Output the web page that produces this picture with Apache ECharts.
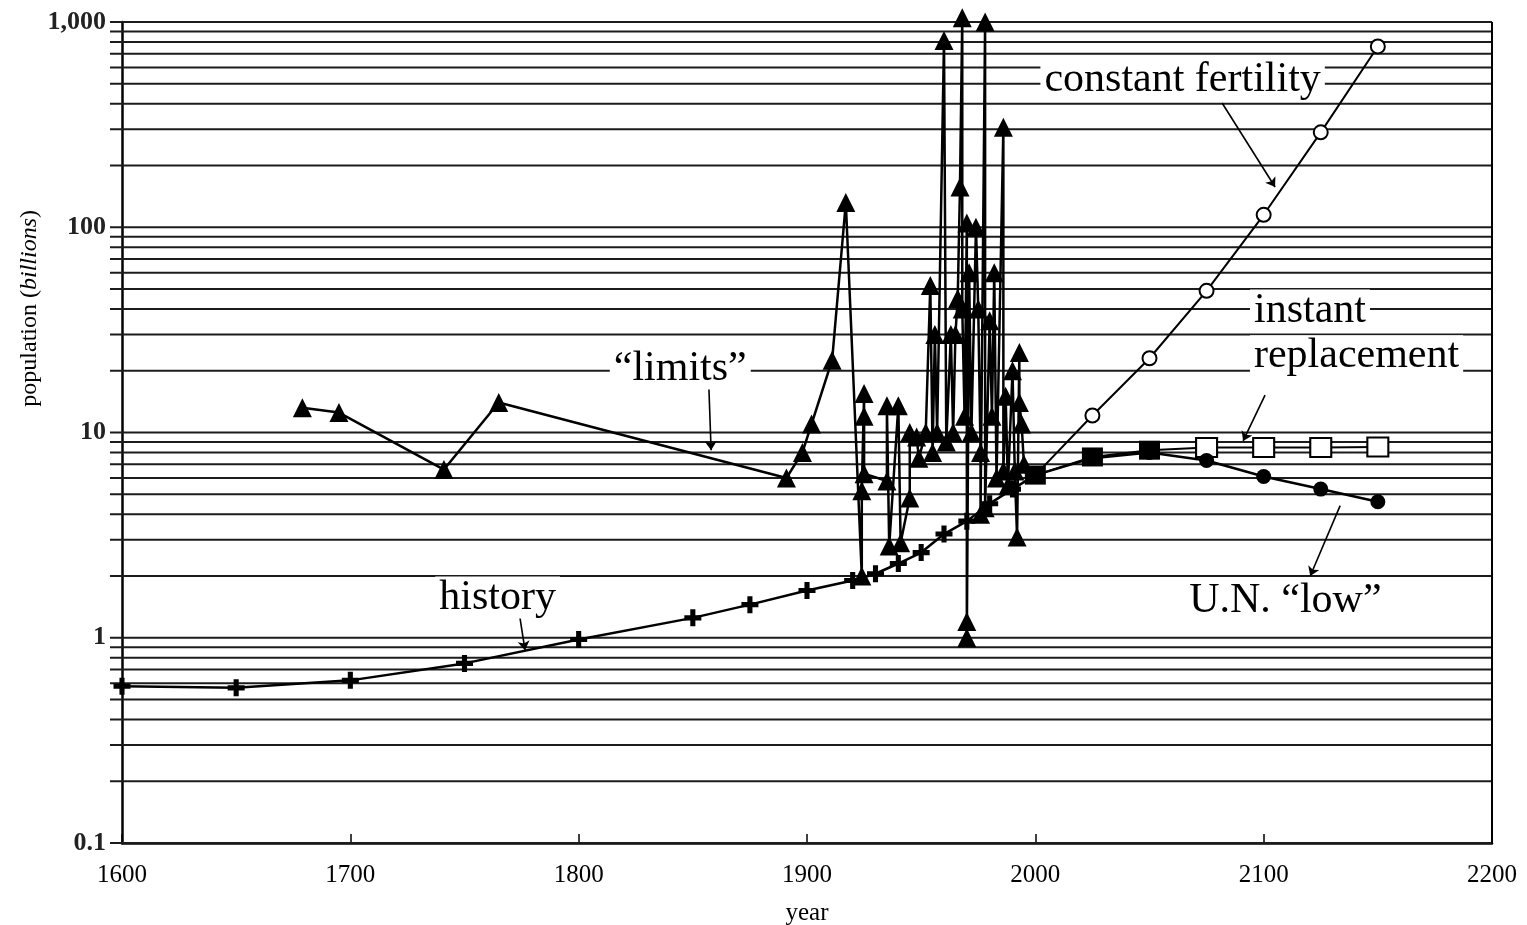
<!DOCTYPE html>
<html>
<head>
<meta charset="utf-8">
<script src="https://cdn.jsdelivr.net/npm/echarts@6/dist/echarts.min.js"></script>
<style>
html,body{margin:0;padding:0;background:#fff;}
#chart{width:1527px;height:925px;}
</style>
</head>
<body>
<div id="chart"></div>
<script>
// ---------------- data ----------------
const historyYears  = [1600,1650,1700,1750,1800,1850,1875,1900,1920,1930,1940,1950,1960,1970,1980,1990,2000];
const historyValues = [0.58,0.57,0.62,0.75,0.98,1.25,1.45,1.7,1.9,2.05,2.3,2.6,3.2,3.7,4.5,5.3,6.2];

const limitsYears  = [1679,1695,1741,1765,1891,1898,1902,1911,1917,1924,1924,1925,1925,1925,1935,1935,1936,1940,1941,1945,1945,1948,1949,1952,1954,1955,1956,1957,1960,1961,1963,1964,1965,1966,1967,1968,1968,1969,1970,1970,1970,1971,1972,1974,1975,1976,1976,1978,1978,1980,1981,1982,1983,1986,1986,1987,1988,1990,1991,1992,1993,1993,1994,1995];
const limitsValues = [13.2,12.5,6.6,14.0,6.0,8.0,11.0,22.5,132,2.0,5.2,15.5,12.0,6.3,5.8,13.5,2.8,13.5,2.9,4.8,10.0,9.5,7.5,10,52,8,30,10,813,9,30,10,30,45,157,1050,40,12,105,1.2,1.0,60,10,100,40,8,4.0,1000,4.3,35,12,60,6.0,307,6.5,15,5.5,20,6.5,3.1,24.5,14,11,7];

const projYears          = [2000,2025,2050,2075,2100,2125,2150];
const constantFertility  = [6.2,12.1,23,49,115,290,760];
const instantReplacement = [6.2,7.6,8.2,8.45,8.45,8.45,8.5];
const unLow              = [6.2,7.5,8.0,7.3,6.1,5.3,4.6];

const yTickValues = [0.1,1,10,100,1000];
const xTickValues = [1600,1700,1800,1900,2000,2100,2200];

const annotationTexts  = ['constant fertility','\u201climits\u201d','instant','replacement','U.N. \u201clow\u201d','history'];
const annotationYears  = [2064.5,1844.5,2094,2094,2109.5,1764.5];
const annotationValues = [521,20.5,39.3,23.5,1.51,1.57];

const leaderFrom = [[2081.8,403],[1857,16.9],[2100.6,15.2],[2133.5,4.4],[1774.3,1.25]];
const leaderTo   = [[2105,157],[1858,8.2],[2091,9.1],[2120.4,2.0],[1776.5,0.87]];

// ---------------- build ----------------
const XMIN = 1600, XMAX = 2200, YMIN = 0.1, YMAX = 1000;
const gridValues = [];
for (let d = YMIN; d < YMAX; d *= 10) {
  for (let k = 1; k <= 9; k++) gridValues.push(+(d * k).toPrecision(3));
}
gridValues.push(YMAX);

const zip = (xs, ys) => xs.map((x, i) => [x, ys[i]]);
const serif = '"Liberation Serif", "DejaVu Serif", serif';
const ink = '#000';

const plusPath = 'path://M3.5,0h3v3.5h3.5v3h-3.5v3.5h-3v-3.5h-3.5v-3h3.5z';
const annotationAlign = ['center','center','left','left','center','center'];

const chart = echarts.init(document.getElementById('chart'));
chart.setOption({
  backgroundColor: '#fff',
  animation: false,
  grid: { left: 122, right: 35, top: 22, bottom: 82, containLabel: false, outerBoundsMode: 'none' },
  xAxis: {
    type: 'value', min: XMIN, max: XMAX, interval: 100,
    name: 'year', nameLocation: 'middle', nameGap: 58,
    nameTextStyle: { fontFamily: serif, fontSize: 25, color: ink },
    axisLine: { lineStyle: { color: ink, width: 2.5 } },
    axisTick: { show: true, inside: true, length: 9, lineStyle: { color: ink, width: 1.5 } },
    axisLabel: { fontFamily: serif, fontSize: 25, color: ink, margin: 20, formatter: v => String(v) },
    splitLine: { show: false }
  },
  yAxis: {
    type: 'log', logBase: 10, min: YMIN, max: YMAX,
    axisLine: { show: true, lineStyle: { color: ink, width: 2.5 } },
    axisTick: { show: false },
    axisLabel: {
      fontFamily: serif, fontSize: 26, fontWeight: 'bold', color: '#222', margin: 16,
      formatter: v => v >= 1000 ? Number(v).toLocaleString('en-US') : String(+Number(v).toPrecision(3))
    },
    splitLine: { show: false }
  },
  graphic: [{
    type: 'text', left: 18, top: 210, rotation: Math.PI / 2,
    style: {
      text: '{a|population (}{b|billions}{a|)}',
      rich: {
        a: { fontFamily: serif, fontSize: 24, fill: ink },
        b: { fontFamily: serif, fontSize: 24, fontStyle: 'italic', fill: ink }
      }
    }
  }],
  series: [
    {
      type: 'custom', name: 'grid', silent: true, z: 1, clip: false,
      data: gridValues.map(v => [XMIN, v]),
      renderItem: (params, api) => {
        const v = api.value(1);
        const p1 = api.coord([XMIN, v]);
        const p2 = api.coord([XMAX, v]);
        return { type: 'line', shape: { x1: p1[0] - 12, y1: p1[1], x2: p2[0], y2: p2[1] },
                 style: { stroke: '#1c1c1c', lineWidth: 2 } };
      },
      markLine: {
        silent: true, symbol: 'none', label: { show: false },
        data: [{ xAxis: XMAX, lineStyle: { color: ink, width: 2, type: 'solid' } }]
      }
    },
    {
      type: 'line', name: 'history', z: 5,
      data: zip(historyYears, historyValues),
      symbol: plusPath, symbolSize: 17,
      itemStyle: { color: ink }, lineStyle: { color: ink, width: 2.5 },
      markLine: {
        silent: true, symbol: ['none', 'arrow'], symbolSize: 9, label: { show: false },
        lineStyle: { color: ink, width: 1.6, type: 'solid' },
        data: leaderFrom.map((f, i) => [{ coord: f }, { coord: leaderTo[i] }])
      }
    },
    {
      type: 'line', name: 'limits', z: 6, clip: false,
      data: zip(limitsYears, limitsValues),
      symbol: 'triangle', symbolSize: 19,
      itemStyle: { color: ink }, lineStyle: { color: ink, width: 2.5 }
    },
    {
      type: 'line', name: 'constant fertility', z: 5,
      data: zip(projYears, constantFertility),
      symbol: 'emptyCircle', symbolSize: 14,
      itemStyle: { color: ink, borderWidth: 2.5 }, lineStyle: { color: ink, width: 2 }
    },
    {
      type: 'line', name: 'instant replacement', z: 5,
      data: zip(projYears, instantReplacement).map((p, i) => ({
        value: p, symbol: i <= 2 ? 'rect' : 'emptyRect'
      })),
      symbol: 'emptyRect', symbolSize: [21, 19],
      itemStyle: { color: ink, borderWidth: 2.5 }, lineStyle: { color: ink, width: 2 }
    },
    {
      type: 'line', name: 'U.N. low', z: 5,
      data: zip(projYears, unLow),
      symbol: 'circle', symbolSize: 15,
      itemStyle: { color: ink }, lineStyle: { color: ink, width: 2.5 }
    },
    {
      type: 'scatter', name: 'labels', z: 10, silent: true,
      symbolSize: 0,
      data: annotationTexts.map((t, i) => ({
        name: t, value: [annotationYears[i], annotationValues[i]],
        label: { align: annotationAlign[i] }
      })),
      label: {
        show: true, position: 'inside', formatter: p => p.name,
        fontFamily: serif, fontSize: 42, color: ink,
        textBorderWidth: 0, textBorderColor: 'transparent', opacity: 1,
        backgroundColor: '#fff', padding: [0, 4, 0, 4], verticalAlign: 'middle'
      }
    }
  ]
});
</script>
</body>
</html>
